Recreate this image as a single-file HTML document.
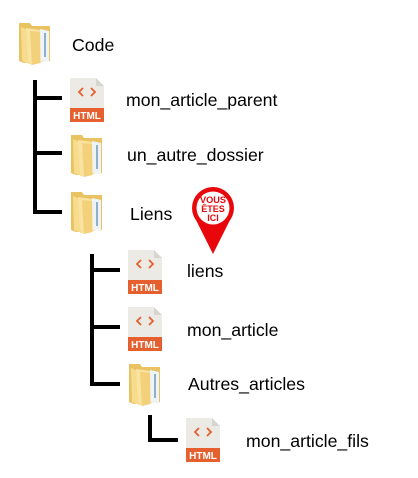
<!DOCTYPE html>
<html><head><style>
html,body{margin:0;padding:0;background:#fff;}
svg{display:block}
text{font-family:"Liberation Sans",sans-serif;}
</style></head><body>
<svg width="418" height="478" viewBox="0 0 418 478" xmlns="http://www.w3.org/2000/svg">
<defs>
<g id="folder">
  <path d="M1 2 L12 2 L14 5 L32 5 L32 40 L6 42 L1 40 Z" fill="#e9c262"/>
  <path d="M22 8 L31 10 L31 41 L22 40 Z" fill="#eef3f7"/>
  <path d="M26 12 L28 12 L28 36 L26 36 Z" fill="#8fb0cc"/>
  <path d="M3 6 L12 10 L14 44 L4 40 Z" fill="#f7dc8e"/>
  <path d="M8 7 L22 9 L23 42 L13 43 L10 40 Z" fill="#f9e3a0"/>
  <path d="M12 10 L22 11 L22 42 L14 44 Z" fill="#f2d17a"/>
</g>
<g id="html">
  <path d="M0 0 L26 0 L34 8 L34 30 L0 30 Z" fill="#ebeae5"/>
  <path d="M26 0 L26 8 L34 8 Z" fill="#d6d5cf"/>
  <rect x="0" y="30" width="34" height="14" fill="#e5602e"/>
  <path d="M13 10 L9 14 L13 18 M21 10 L25 14 L21 18" fill="none" stroke="#e5602e" stroke-width="1.8"/>
  <text x="17" y="41" font-size="10" font-weight="bold" fill="#fff" text-anchor="middle">HTML</text>
</g>
</defs>
<g stroke="#000" stroke-width="4" fill="none">
  <path d="M35 80 V214 M35 98 H62 M35 153 H62 M35 212 H62"/>
  <path d="M92 254 V386 M92 270 H120 M92 327 H120 M92 384 H120"/>
  <path d="M150 415 V442 M150 440 H178"/>
</g>
<use href="#folder" x="18" y="21"/>
<use href="#html" x="70" y="78"/>
<use href="#folder" x="70" y="133"/>
<use href="#folder" x="70" y="190"/>
<use href="#html" x="128" y="250"/>
<use href="#html" x="128" y="307"/>
<use href="#folder" x="128" y="362"/>
<use href="#html" x="186" y="418"/>
<g font-size="17.7" fill="#000">
  <text x="72" y="51">Code</text>
  <text x="126" y="106">mon_article_parent</text>
  <text x="127" y="161">un_autre_dossier</text>
  <text x="130" y="220">Liens</text>
  <text x="187" y="277">liens</text>
  <text x="187" y="336">mon_article</text>
  <text x="188" y="390">Autres_articles</text>
  <text x="246" y="447">mon_article_fils</text>
</g>
<path d="M195 218 L213 254 L231 218 Z" fill="#e8080c"/>
<circle cx="213" cy="208" r="21" fill="#e8080c"/>
<circle cx="213" cy="208" r="16.5" fill="#fff"/>
<g font-size="9" font-weight="bold" fill="#e8080c" text-anchor="middle">
  <text x="213" y="203" textLength="26" lengthAdjust="spacingAndGlyphs">VOUS</text>
  <text x="213" y="212">ÊTES</text>
  <text x="213" y="221">ICI</text>
</g>
</svg>
</body></html>
